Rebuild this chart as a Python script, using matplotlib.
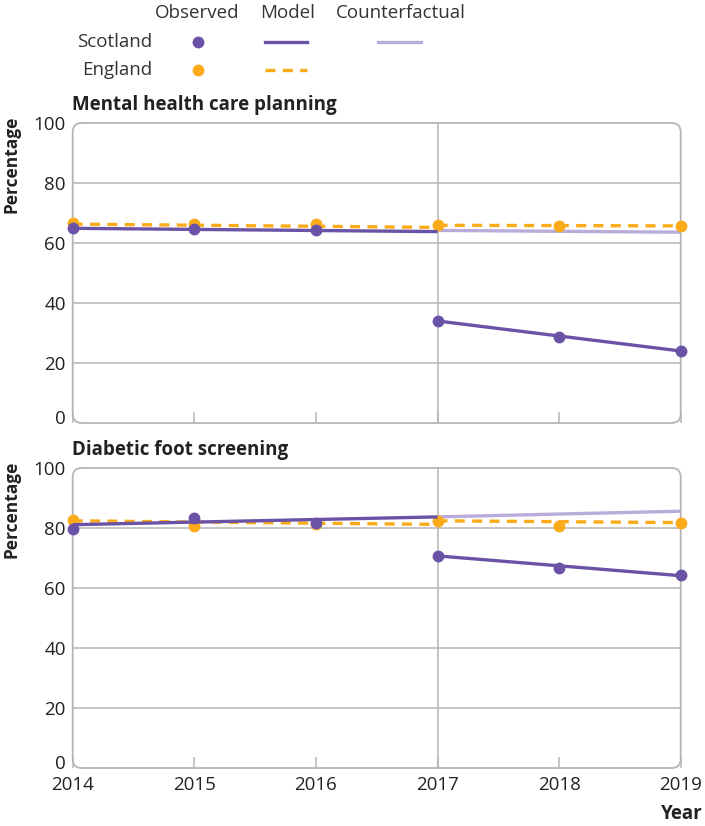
import numpy as np
import matplotlib.pyplot as plt
import matplotlib.transforms as mtransforms
from matplotlib.patches import FancyBboxPatch
from matplotlib.lines import Line2D

plt.rcParams['font.family'] = ['Open Sans', 'DejaVu Sans']

years = [2014, 2015, 2016, 2017, 2018, 2019]
pre_years = [2014, 2017]
post_years = [2017, 2018, 2019]
cf_years = [2017, 2019]

# mental health care planning
mh_scot_obs = [64.9, 64.6, 64.2, 34.0, 28.6, 24.1]
mh_eng_obs = [66.6, 66.4, 66.4, 66.1, 65.7, 65.7]
mh_scot_pre = [64.9, 63.8]
mh_scot_post = [34.0, 29.0, 24.0]
mh_scot_cf = [64.2, 63.6]
mh_eng_pre = [66.3, 65.2]
mh_eng_post = [65.9, 65.8, 65.7]

# diabetic foot screening
df_scot_obs = [79.6, 83.2, 81.6, 70.8, 66.7, 64.3]
df_eng_obs = [82.6, 80.8, 81.2, 82.4, 80.8, 81.7]
df_scot_pre = [81.1, 83.7]
df_scot_post = [70.7, 67.4, 64.1]
df_scot_cf = [83.7, 85.6]
df_eng_pre = [82.4, 81.2]
df_eng_post = [82.4, 82.1, 81.8]

purple = '#6a53a6'
orange = '#fbab18'
lilac = '#b9acdb'
grey = '#b5b5b5'
tc = '#222222'
fs = 13.5

W, H = 705, 826
fig = plt.figure(figsize=(W/100, H/100), dpi=100)

def fx(px):
    return px / W

def fy(py):
    return 1 - py / H

left, right = 72.7, 680.7

def panel(top_px, title, scot_obs, eng_obs, scot_pre, scot_post, scot_cf, eng_pre, eng_post, xlabels):
    ax = fig.add_axes([fx(left), fy(top_px + 300), fx(right - left), 300 / H])
    ax.set_xlim(2014, 2019)
    ax.set_ylim(0, 100)
    for s in ax.spines.values():
        s.set_visible(False)
    box = FancyBboxPatch((0, 0), 1, 1, boxstyle="round,pad=0,rounding_size=0.0148",
                         mutation_aspect=2.03, transform=ax.transAxes,
                         fill=False, edgecolor=grey, lw=1.3, clip_on=False, zorder=1)
    ax.add_patch(box)
    for g in [20, 40, 60, 80]:
        ax.axhline(g, color=grey, lw=1.1, zorder=1)
    ax.axvline(2017, color=grey, lw=1.1, zorder=1)
    ax.set_yticks([0, 20, 40, 60, 80, 100])
    ax.set_xticks(years)
    ax.tick_params(axis='y', length=0, labelsize=fs, pad=5, labelcolor=tc)
    ax.tick_params(axis='x', direction='in', length=8, color=grey, width=1.1,
                   labelsize=fs, pad=6, labelcolor=tc)
    if not xlabels:
        ax.set_xticklabels([])
    # lift the zero label a little, as in the original
    lab0 = ax.get_yticklabels()[0]
    lab0.set_transform(lab0.get_transform() +
                       mtransforms.ScaledTranslation(0, 4/72, fig.dpi_scale_trans))

    ax.plot(cf_years, scot_cf, color=lilac, lw=2.4, zorder=2, solid_capstyle='butt')
    ax.plot(pre_years, eng_pre, color=orange, lw=2.4, ls=(0, (3, 2.2)), zorder=3)
    ax.plot(post_years, eng_post, color=orange, lw=2.4, ls=(0, (3, 2.2)), zorder=3)
    ax.plot(years, eng_obs, 'o', color=orange, ms=7.5, zorder=4, clip_on=False)
    ax.plot(pre_years, scot_pre, color=purple, lw=2.4, zorder=5, solid_capstyle='butt')
    ax.plot(post_years, scot_post, color=purple, lw=2.4, zorder=5)
    ax.plot(years, scot_obs, 'o', color=purple, ms=7.5, zorder=6, clip_on=False)

    fig.text(fx(72), fy(top_px - 18), title, fontsize=fs, fontweight='bold',
             ha='left', va='center', color=tc)
    fig.text(fx(12), fy(top_px - 7), 'Percentage', fontsize=12.5, fontweight='bold',
             rotation=90, ha='center', va='top', color=tc)
    return ax

panel(123, 'Mental health care planning', mh_scot_obs, mh_eng_obs, mh_scot_pre,
      mh_scot_post, mh_scot_cf, mh_eng_pre, mh_eng_post, False)
panel(468, 'Diabetic foot screening', df_scot_obs, df_eng_obs, df_scot_pre,
      df_scot_post, df_scot_cf, df_eng_pre, df_eng_post, True)

fig.text(fx(703), fy(814), 'Year', fontsize=fs, fontweight='bold', ha='right',
         va='center', color=tc)

# legend
lc = '#333333'
fig.text(fx(197), fy(13), 'Observed', fontsize=fs, ha='center', va='center', color=lc)
fig.text(fx(288), fy(13), 'Model', fontsize=fs, ha='center', va='center', color=lc)
fig.text(fx(401), fy(13), 'Counterfactual', fontsize=fs, ha='center', va='center', color=lc)
fig.text(fx(152), fy(42), 'Scotland', fontsize=fs, ha='right', va='center', color=lc)
fig.text(fx(152), fy(70), 'England', fontsize=fs, ha='right', va='center', color=lc)
fig.add_artist(Line2D([fx(198)], [fy(42)], marker='o', color=purple, ms=7.5, ls='none'))
fig.add_artist(Line2D([fx(198)], [fy(70)], marker='o', color=orange, ms=7.5, ls='none'))
fig.add_artist(Line2D([fx(265), fx(307)], [fy(42), fy(42)], color=purple, lw=2.4))
fig.add_artist(Line2D([fx(265), fx(307)], [fy(70), fy(70)], color=orange, lw=2.4,
                      ls=(0, (3, 2.2))))
fig.add_artist(Line2D([fx(378), fx(421)], [fy(42), fy(42)], color=lilac, lw=2.4))

fig.savefig('out.png', dpi=100)
